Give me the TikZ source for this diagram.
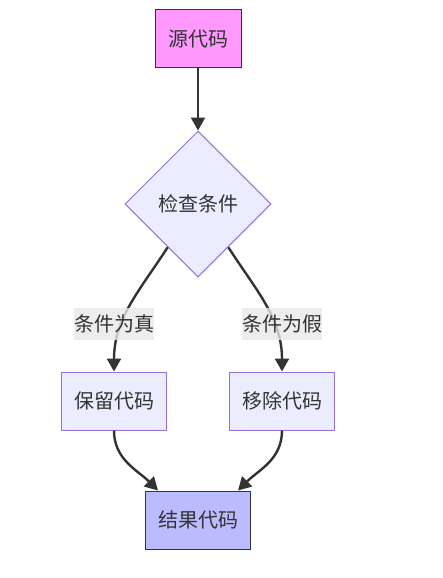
\documentclass[tikz,border=0pt]{standalone}
\usepackage{fontspec}
\setmainfont{Noto Sans CJK SC}
\usepackage{tikz}
\usetikzlibrary{arrows.meta, shapes.geometric}

\definecolor{nodefill}{HTML}{ECECFF}
\definecolor{nodeline}{HTML}{9370DB}
\definecolor{srcfill}{HTML}{FF99FF}
\definecolor{resfill}{HTML}{BBBBFF}
\definecolor{darkline}{HTML}{333333}
\definecolor{labelfill}{HTML}{E8E8E8}

\begin{document}
\begin{tikzpicture}[
			x=1pt, y=1pt,
			box/.style={
				draw=nodeline,
				fill=nodefill,
				rectangle,
				line width=1pt,
				minimum width=105pt,
				minimum height=58pt,
				inner sep=0pt,
				text=darkline,
				font=\fontsize{20}{24}\selectfont
			},
			decision/.style={
				box,
				diamond,
				aspect=1,
				minimum width=146pt,
				minimum height=146pt
			},
			lbl/.style={
				fill=labelfill,
				fill opacity=0.8,
				text opacity=1,
				text=darkline,
				inner sep=0pt,
				minimum width=80pt,
				minimum height=32pt,
				font=\fontsize{20}{24}\selectfont
			},
			arrow/.style={-{Triangle[length=13pt, width=14pt]}, line width=2.4pt, draw=darkline}
			]
			
			\useasboundingbox (0,0) rectangle (443,-578);
			
			\node[box, fill=srcfill, draw=darkline, minimum width=86pt] (src) at (198,-39) {源代码};
			\node[decision] (chk) at (198,-204) {检查条件};
			\node[box] (keep) at (114,-401) {保留代码};
			\node[box] (drop) at (282,-401) {移除代码};
			\node[box, fill=resfill, draw=darkline] (res) at (198,-520) {结果代码};
			
			\draw[arrow] (src) -- (chk);
			\draw[arrow] (chk.-125) to[out=-123, in=90] (keep.north);
			\draw[arrow] (chk.-55) to[out=-57, in=90] (drop.north);
			\draw[arrow] (keep.south) to[out=-90, in=135] ([xshift=13pt]res.north west);
			\draw[arrow] (drop.south) to[out=-90, in=45] ([xshift=-13pt]res.north east);
			
			\node[lbl] (ltrue) at (114,-324) {条件为真};
			\node[lbl] (lfalse) at (282,-324) {条件为假};
			
		\end{tikzpicture}
\end{document}
